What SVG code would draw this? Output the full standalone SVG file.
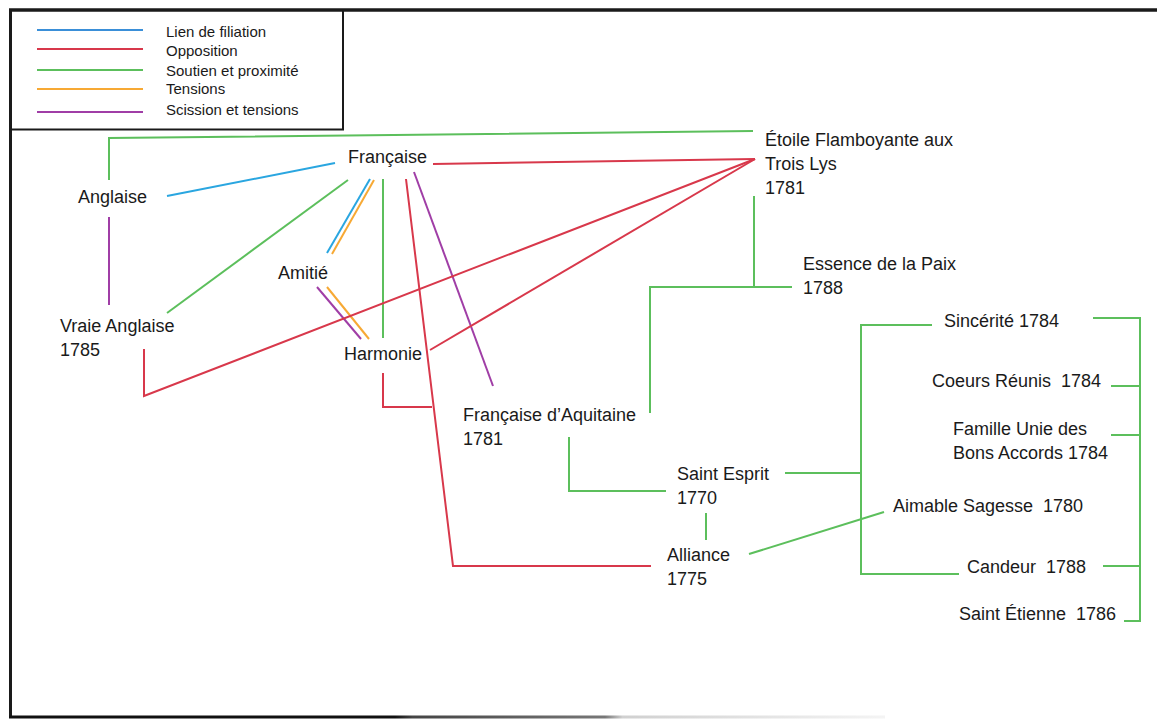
<svg xmlns="http://www.w3.org/2000/svg" width="1157" height="720" viewBox="0 0 1157 720">
<style>
  .lbl{font-family:"Liberation Sans",Arial,sans-serif;font-size:18px;fill:#1a1a1a;white-space:pre}
  .leg{font-family:"Liberation Sans",Arial,sans-serif;font-size:15px;fill:#1a1a1a}
  .c{fill:none;stroke-width:2;stroke-linecap:butt;stroke-linejoin:miter}
  .blue{stroke:#2aa6e0}
  .red{stroke:#d8384b}
  .green{stroke:#5cbf5c}
  .orange{stroke:#f7a934}
  .purple{stroke:#a03ea6}
</style>
<defs>
  <linearGradient id="fade" x1="10" y1="0" x2="885" y2="0" gradientUnits="userSpaceOnUse">
    <stop offset="0" stop-color="#111"/>
    <stop offset="0.44" stop-color="#111"/>
    <stop offset="0.46" stop-color="#444"/>
    <stop offset="0.68" stop-color="#777"/>
    <stop offset="0.7" stop-color="#d0d0d0"/>
    <stop offset="1" stop-color="#f4f4f4"/>
  </linearGradient>
</defs>
<rect width="1157" height="720" fill="#fff"/>
<g id="frame">
  <line x1="9" y1="10" x2="1157" y2="10" stroke="#1a1a1a" stroke-width="3.5"/>
  <line x1="10.5" y1="9" x2="10.5" y2="718" stroke="#1a1a1a" stroke-width="3"/>
  <line x1="9" y1="717" x2="885" y2="717" stroke="url(#fade)" stroke-width="3"/>
</g>
<g id="legend">
  <polyline points="11,129.5 343,129.5 343,10" fill="none" stroke="#1a1a1a" stroke-width="2"/>
  <line class="c blue" x1="37" y1="30" x2="143" y2="30" style="stroke:#3a8fd8"/>
  <line class="c red" x1="37" y1="49" x2="143" y2="49"/>
  <line class="c green" x1="37" y1="70" x2="143" y2="70"/>
  <line class="c orange" x1="37" y1="89" x2="143" y2="89"/>
  <line class="c purple" x1="37" y1="112" x2="143" y2="112"/>
  <text class="leg" x="166" y="37">Lien de filiation</text>
  <text class="leg" x="166" y="56">Opposition</text>
  <text class="leg" x="166" y="76">Soutien et proximité</text>
  <text class="leg" x="166" y="94">Tensions</text>
  <text class="leg" x="166" y="115">Scission et tensions</text>
</g>
<g id="connectors">
  <polyline class="c green" points="109,180 109,138 753,131"/>
  <line class="c blue" x1="167" y1="196" x2="335" y2="163"/>
  <line class="c purple" x1="109" y1="217" x2="109" y2="305"/>
  <line class="c green" x1="167" y1="313" x2="348" y2="180"/>
  <line class="c blue" x1="370" y1="179" x2="327" y2="253"/>
  <line class="c orange" x1="374" y1="180" x2="332" y2="254"/>
  <line class="c green" x1="383" y1="179" x2="383" y2="338"/>
  <line class="c purple" x1="317" y1="287" x2="361" y2="339"/>
  <line class="c orange" x1="327" y1="287" x2="369" y2="339"/>
  <polyline class="c red" points="406,179 453,566 651,566"/>
  <line class="c purple" x1="414" y1="172" x2="493" y2="386"/>
  <line class="c red" x1="433" y1="164" x2="755" y2="159"/>
  <polyline class="c red" points="144,349 144,396 755,159"/>
  <line class="c red" x1="430" y1="350" x2="755" y2="159"/>
  <polyline class="c red" points="383,373 383,407 432,407"/>
  <line class="c green" x1="754" y1="196" x2="754" y2="287"/>
  <polyline class="c green" points="650,413 650,287 792,287"/>
  <polyline class="c green" points="569,437 569,491 666,491"/>
  <line class="c green" x1="706" y1="513" x2="706" y2="540"/>
  <polyline class="c green" points="932,325 861,325 861,574 959,574"/>
  <line class="c green" x1="785" y1="473" x2="861" y2="473"/>
  <line class="c green" x1="749" y1="554" x2="884" y2="512"/>
  <polyline class="c green" points="1093,318 1140,318 1140,621 1124,621"/>
  <line class="c green" x1="1111" y1="386" x2="1140" y2="386"/>
  <line class="c green" x1="1111" y1="435" x2="1140" y2="435"/>
  <line class="c green" x1="1103" y1="566" x2="1140" y2="566"/>
</g>
<g id="n-anglaise"><text class="lbl" x="78" y="203">Anglaise</text></g>
<g id="n-francaise"><text class="lbl" x="348" y="163">Française</text></g>
<g id="n-amitie"><text class="lbl" x="278" y="279">Amitié</text></g>
<g id="n-vraie-anglaise"><text class="lbl" x="60" y="332">Vraie Anglaise</text><text class="lbl" x="60" y="356">1785</text></g>
<g id="n-harmonie"><text class="lbl" x="344" y="360">Harmonie</text></g>
<g id="n-etoile"><text class="lbl" x="765" y="146">Étoile Flamboyante aux</text><text class="lbl" x="765" y="170">Trois Lys</text><text class="lbl" x="765" y="194">1781</text></g>
<g id="n-essence"><text class="lbl" x="803" y="270">Essence de la Paix</text><text class="lbl" x="803" y="294">1788</text></g>
<g id="n-francaise-aquitaine"><text class="lbl" x="463" y="421">Française d’Aquitaine</text><text class="lbl" x="463" y="445">1781</text></g>
<g id="n-saint-esprit"><text class="lbl" x="677" y="480">Saint Esprit</text><text class="lbl" x="677" y="504">1770</text></g>
<g id="n-alliance"><text class="lbl" x="667" y="561">Alliance</text><text class="lbl" x="667" y="585">1775</text></g>
<g id="n-sincerite"><text class="lbl" x="944" y="327">Sincérité 1784</text></g>
<g id="n-coeurs"><text class="lbl" x="932" y="387">Coeurs Réunis  1784</text></g>
<g id="n-famille"><text class="lbl" x="953" y="435">Famille Unie des</text><text class="lbl" x="953" y="459">Bons Accords 1784</text></g>
<g id="n-aimable"><text class="lbl" x="893" y="512">Aimable Sagesse  1780</text></g>
<g id="n-candeur"><text class="lbl" x="967" y="573">Candeur  1788</text></g>
<g id="n-saint-etienne"><text class="lbl" x="959" y="620">Saint Étienne  1786</text></g>
</svg>
